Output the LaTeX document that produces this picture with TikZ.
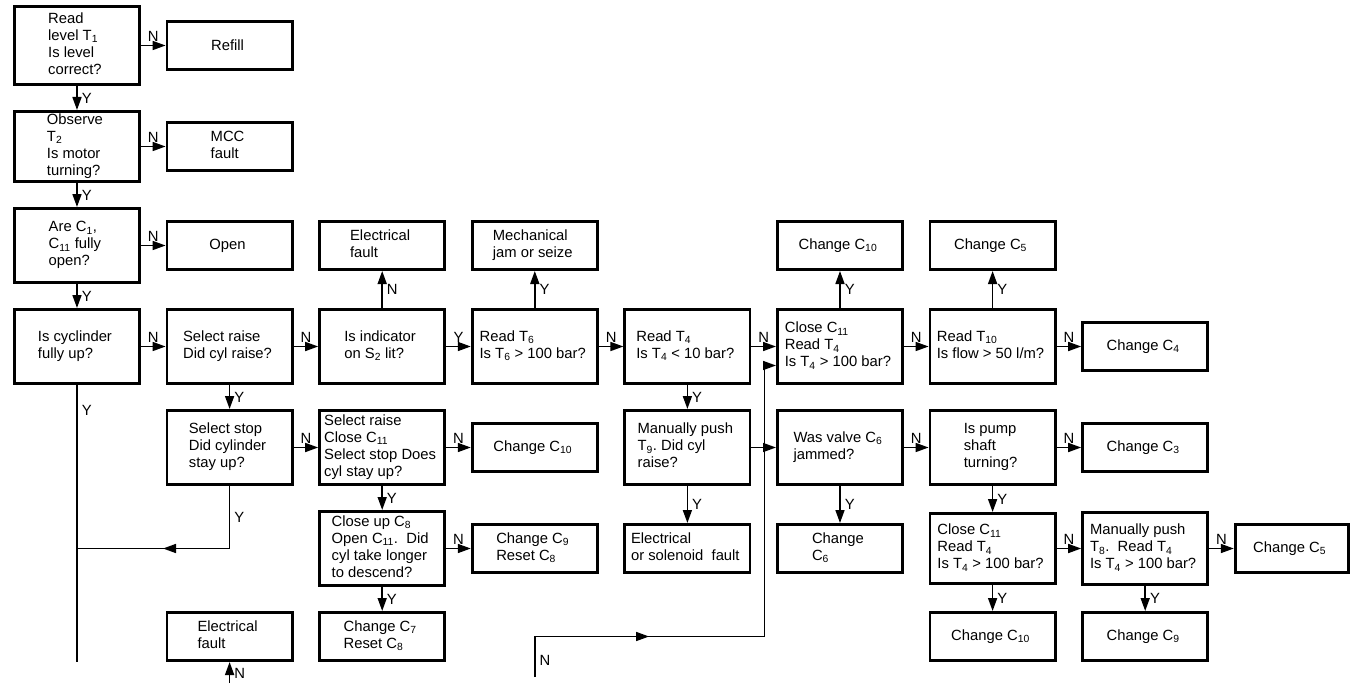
\documentclass[tikz,border=0pt]{standalone}
\usepackage{fontspec}
\setmainfont{Liberation Sans}
\usepackage{tikz}
\usetikzlibrary{matrix,arrows.meta,decorations.markings}
\newcommand{\Tn}[1]{T\textsubscript{#1}}
\newcommand{\Cn}[1]{C\textsubscript{#1}}
\newcommand{\boxfont}{\fontsize{14.8pt}{17pt}\selectfont}
\newcommand{\celltext}[1]{\begin{tabular}{@{}l@{}}#1\end{tabular}}

\begin{document}
\begin{tikzpicture}[
  x=1pt, y=-1pt,
  stepbox/.style={draw, line width=2.8pt, anchor=center, minimum width=125.2pt,
                  minimum height=48.2pt, inner xsep=3pt, inner ysep=0.5pt, align=left, font=\boxfont},
  tall/.style={minimum height=74.2pt},
  conn/.style={line width=1.6pt, -{Triangle[length=13pt,width=9pt]}},
  link/.style={line width=1.6pt},
  midarrow/.style={postaction={decorate}, decoration={markings,
                   mark=at position #1 with {\arrow{Triangle[length=13pt,width=9pt]}}}},
  nlbl/.style={above, inner sep=3pt, font=\boxfont},
  ylbl/.style={right, inner sep=4pt, font=\boxfont},
]
\matrix (m) [matrix of nodes, nodes={stepbox}, inner sep=0pt,
             column sep=24.6pt, row sep=24pt] {
  |[minimum height=78.2pt]| \celltext{Read\\level \Tn{1}\\Is level\\correct?} & Refill \\
  |[minimum height=70.2pt]| \celltext{Observe\\\Tn{2}\\Is motor\\turning?} & \celltext{MCC\\fault} \\
  |[tall]| \celltext{Are \Cn{1},\\\Cn{11} fully\\open?} & Open & \celltext{Electrical\\fault}
    & \celltext{Mechanical\\jam or seize} & & Change \Cn{10} & Change \Cn{5} \\
  |[tall]| \celltext{Is cyclinder\\fully up?} & |[tall]| \celltext{Select raise\\Did cyl raise?}
    & |[tall]| \celltext{Is indicator\\on S\textsubscript{2} lit?} & |[tall]| \celltext{Read \Tn{6}\\Is \Tn{6} > 100 bar?}
    & |[tall]| \celltext{Read \Tn{4}\\Is \Tn{4} < 10 bar?} & |[tall]| \celltext{Close \Cn{11}\\Read \Tn{4}\\Is \Tn{4} > 100 bar?}
    & |[tall]| \celltext{Read \Tn{10}\\Is flow > 50 l/m?} & Change \Cn{4} \\
  & |[tall]| \celltext{Select stop\\Did cylinder\\stay up?} & |[tall]| \celltext{Select raise\\Close \Cn{11}\\Select stop Does\\cyl stay up?}
    & Change \Cn{10} & |[tall]| \celltext{Manually push\\\Tn{9}.\ Did cyl\\raise?} & |[tall]| \celltext{Was valve \Cn{6}\\jammed?}
    & |[tall]| \celltext{Is pump\\shaft\\turning?} & Change \Cn{3} \\
  & & |[tall]| \celltext{Close up \Cn{8}\\Open \Cn{11}.\ \ Did\\cyl take longer\\to descend?} & \celltext{Change \Cn{9}\\Reset \Cn{8}}
    & \celltext{Electrical\\or solenoid\ \ fault} & \celltext{Change\\\Cn{6}} & |[minimum height=70.2pt]| \celltext{Close \Cn{11}\\Read \Tn{4}\\Is \Tn{4} > 100 bar?}
    & |[minimum height=72.2pt]| \celltext{Manually push\\\Tn{8}.\ \ Read \Tn{4}\\Is \Tn{4} > 100 bar?} & |[minimum width=113pt]| Change \Cn{5} \\
  & \celltext{Electrical\\fault} & \celltext{Change \Cn{7}\\Reset \Cn{8}} & & & & Change \Cn{10} & Change \Cn{9} \\
};

\coordinate (o) at ([shift={(-13,-5)}]m-1-1.north west);
\coordinate (obot) at ([yshift=-683pt]o);
\coordinate (ybot) at (m-4-1.south |- m-7-2.south);
\coordinate (yjoin) at (m-4-1.south |- m-6-3);
\coordinate (nleft) at (m-7-2.south |- obot);
\coordinate (nstart) at ([yshift=6pt]m-6-4 |- obot);
\coordinate (ncorner) at (m-6-4 |- m-7-3);
\coordinate (nin) at ([yshift=-19pt]m-4-6.west);
\coordinate (nturn) at ([xshift=13pt]m-4-5.east |- nin);

\draw[conn] (m-1-1) -- node[nlbl] {N} (m-1-2);
\draw[conn] (m-2-1) -- node[nlbl] {N} (m-2-2);
\draw[conn] (m-3-1) -- node[nlbl] {N} (m-3-2);
\draw[conn] (m-4-1) -- node[nlbl] {N} (m-4-2);
\draw[conn] (m-4-2) -- node[nlbl] {N} (m-4-3);
\draw[conn] (m-4-3) -- node[nlbl] {Y} (m-4-4);
\draw[conn] (m-4-4) -- node[nlbl] {N} (m-4-5);
\draw[conn] (m-4-5) -- node[nlbl] {N} (m-4-6);
\draw[conn] (m-4-6) -- node[nlbl] {N} (m-4-7);
\draw[conn] (m-4-7) -- node[nlbl] {N} (m-4-8);
\draw[conn] (m-5-2) -- node[nlbl] {N} (m-5-3);
\draw[conn] (m-5-3) -- node[nlbl] {N} (m-5-4);
\draw[conn] (m-5-5) -- (m-5-6);
\draw[conn] (m-5-6) -- node[nlbl] {N} (m-5-7);
\draw[conn] (m-5-7) -- node[nlbl] {N} (m-5-8);
\draw[conn] (m-6-3) -- node[nlbl] {N} (m-6-4);
\draw[conn] (m-6-7) -- node[nlbl] {N} (m-6-8);
\draw[conn] (m-6-8) -- node[nlbl] {N} (m-6-9);

\draw[conn] (m-1-1) -- node[ylbl] {Y} (m-2-1);
\draw[conn] (m-2-1) -- node[ylbl] {Y} (m-3-1);
\draw[conn] (m-3-1) -- node[ylbl] {Y} (m-4-1);
\draw[conn] (m-4-2) -- node[ylbl] {Y} (m-5-2);
\draw[conn] (m-4-5) -- node[ylbl] {Y} (m-5-5);
\draw[conn] (m-5-3) -- node[ylbl] {Y} (m-6-3);
\draw[conn] (m-6-3) -- node[ylbl] {Y} (m-7-3);
\draw[conn] (m-5-5) -- node[ylbl] {Y} (m-6-5);
\draw[conn] (m-5-6) -- node[ylbl] {Y} (m-6-6);
\draw[conn] (m-5-7) -- node[ylbl] {Y} (m-6-7);
\draw[conn] (m-6-7) -- node[ylbl] {Y} (m-7-7);
\draw[conn] (m-6-8) -- node[ylbl] {Y} (m-7-8);
\draw[conn] (m-4-3) -- node[ylbl] {N} (m-3-3);
\draw[conn] (m-4-4) -- node[ylbl] {Y} (m-3-4);
\draw[conn] (m-4-6) -- node[ylbl] {Y} (m-3-6);
\draw[conn] (m-4-7) -- node[ylbl] {Y} (m-3-7);

\draw[link] (m-4-1) -- node[ylbl, pos=0.09] {Y} (ybot);
\draw[link, midarrow=0.6] (m-5-2) |- node[ylbl, pos=0.25] {Y} (yjoin);
\draw[conn] (nleft) -- node[ylbl, pos=0.45] {N} (m-7-2);
\draw[conn, midarrow=0.28] (nstart) -- node[ylbl, pos=0.4] {N} (ncorner) -| (nturn) -- (nin);

\pgfresetboundingbox
\useasboundingbox (o) rectangle ++(1351,683);
\end{tikzpicture}
\end{document}
